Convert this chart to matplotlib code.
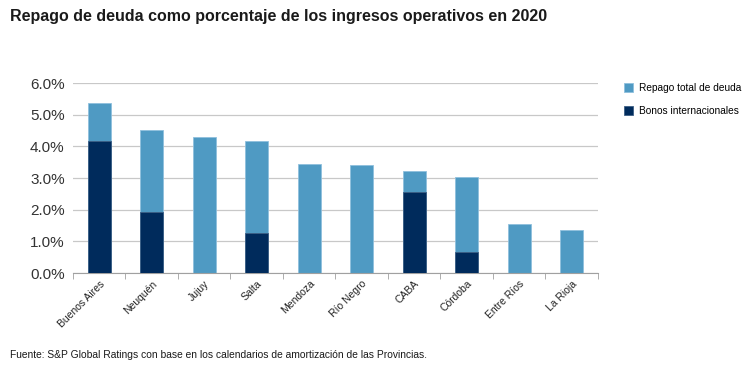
import matplotlib.pyplot as plt
import numpy as np

plt.rcParams['font.family'] = ['Liberation Sans', 'DejaVu Sans']

# Datos (% de ingresos operativos)
provincias = ["Buenos Aires", "Neuquén", "Jujuy", "Salta", "Mendoza",
              "Río Negro", "CABA", "Córdoba", "Entre Ríos", "La Rioja"]
repago_total = [5.38, 4.52, 4.30, 4.16, 3.45, 3.40, 3.22, 3.02, 1.55, 1.36]
bonos_int = [4.16, 1.94, 0.0, 1.27, 0.0, 0.0, 2.56, 0.66, 0.0, 0.0]

light = '#4F9AC3'
dark = '#002B5C'

fig = plt.figure(figsize=(7.5, 3.69), dpi=100)
ax = fig.add_axes([0.0973, 0.26, 0.7, 0.515])

x = np.arange(len(provincias))
ax.bar(x, repago_total, width=0.44, color=light, edgecolor='#8FC0DD',
       linewidth=0.6, label='Repago total de deuda', zorder=2)
ax.bar(x, bonos_int, width=0.44, color=dark, edgecolor='#3D5F85',
       linewidth=0.6, label='Bonos internacionales', zorder=3)

ax.set_xlim(-0.5, len(provincias) - 0.5)
ax.set_ylim(0, 6.0)
ax.set_yticks(np.arange(0, 6.01, 1.0))
ax.set_yticklabels([f"{v:.1f}%" for v in np.arange(0, 6.01, 1.0)],
                   fontsize=11, color='#333333')
ax.yaxis.grid(True, color='#C8C8C8', linewidth=0.9, zorder=0)
ax.set_axisbelow(True)

for s in ['top', 'right', 'left']:
    ax.spines[s].set_visible(False)
ax.spines['bottom'].set_color('#A0A0A0')
ax.tick_params(axis='y', length=0, pad=6)

ax.set_xticks(x)
ax.set_xticklabels(provincias, rotation=45, ha='right', rotation_mode='anchor',
                   fontsize=7.5, color='#222222')
ax.tick_params(axis='x', length=0, pad=4)
ax.set_xticks(np.arange(-0.5, len(provincias), 1.0), minor=True)
ax.tick_params(axis='x', which='minor', length=4, color='#A0A0A0')

handles, labels = ax.get_legend_handles_labels()
fig.legend(handles, labels, loc='upper left', bbox_to_anchor=(0.826, 0.785),
           frameon=False, fontsize=7.3, handlelength=0.9, handleheight=1.0,
           handletextpad=0.6, labelspacing=1.2, borderaxespad=0)

fig.text(0.013, 0.955, "Repago de deuda como porcentaje de los ingresos operativos en 2020",
         fontsize=11.5, fontweight='bold', color='#1a1a1a', va='center')
fig.text(0.013, 0.038, "Fuente: S&P Global Ratings con base en los calendarios de amortización de las Provincias.",
         fontsize=7.4, color='#1a1a1a', va='center')

fig.savefig('out.png', dpi=100)
